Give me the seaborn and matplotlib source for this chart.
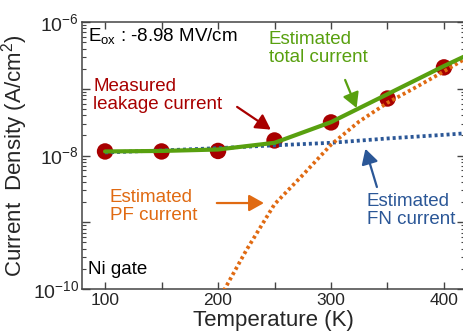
import numpy as np
import pandas as pd
import seaborn as sns
import matplotlib.pyplot as plt
from matplotlib.ticker import MultipleLocator, LogLocator, FuncFormatter, NullFormatter

# measured leakage current (dots)
TEMP_MEAS = [100, 150, 200, 250, 300, 350, 400]
J_MEAS = [1.15e-8, 1.15e-8, 1.17e-8, 1.68e-8, 3.13e-8, 7.14e-8, 2.09e-7]

# estimated total current
TEMP_TOT = [100, 150, 200, 250, 300, 350, 400, 420]
J_TOT = [1.15e-8, 1.17e-8, 1.23e-8, 1.55e-8, 3.16e-8, 8.3e-8, 2.19e-7, 3.16e-7]

# estimated FN current
TEMP_FN = [100, 150, 200, 250, 300, 350, 400, 420]
J_FN = [1.11e-8, 1.19e-8, 1.29e-8, 1.42e-8, 1.55e-8, 1.8e-8, 2.04e-8, 2.16e-8]

# estimated PF current
TEMP_PF = [200, 225, 250, 275, 300, 325, 350, 375, 400, 420]
J_PF = [6.6e-11, 3.8e-10, 1.86e-9, 5.1e-9, 1.45e-8, 3.24e-8, 6.17e-8, 1.05e-7, 1.82e-7, 2.9e-7]

RED = "#a80000"
GREEN = "#58a00f"
ORANGE = "#e06a12"
BLUE = "#2b5797"
AXC = "#444444"


def main():
    sns.set_style("ticks")
    plt.rcParams["font.family"] = ["Liberation Sans", "DejaVu Sans"]
    plt.rcParams["mathtext.fontset"] = "custom"
    plt.rcParams["mathtext.rm"] = "Liberation Sans"
    plt.rcParams["mathtext.it"] = "Liberation Sans:italic"
    plt.rcParams["mathtext.default"] = "regular"

    meas = pd.DataFrame({"T": TEMP_MEAS, "J": J_MEAS})
    tot = pd.DataFrame({"T": TEMP_TOT, "J": J_TOT})
    fn = pd.DataFrame({"T": TEMP_FN, "J": J_FN})
    pf = pd.DataFrame({"T": TEMP_PF, "J": J_PF})

    fig = plt.figure(figsize=(4.63, 3.36), dpi=100)
    ax = fig.add_axes([82 / 463, 47 / 336, 383 / 463, 267 / 336])
    ax.set_yscale("log")

    sns.scatterplot(data=meas, x="T", y="J", ax=ax, s=140, color=RED,
                    edgecolor="none", zorder=2)
    dots = (0, (0.8, 0.8))
    sns.lineplot(data=fn, x="T", y="J", ax=ax, color=BLUE, lw=2.7,
                 linestyle=dots, zorder=3)
    sns.lineplot(data=pf, x="T", y="J", ax=ax, color=ORANGE, lw=2.7,
                 linestyle=dots, zorder=3)
    sns.lineplot(data=tot, x="T", y="J", ax=ax, color=GREEN, lw=3, zorder=4)

    ax.set_xlim(79.6, 418.6)
    ax.set_ylim(1e-10, 1e-6)

    ax.xaxis.set_major_locator(MultipleLocator(100))
    ax.xaxis.set_minor_locator(MultipleLocator(50))
    ax.yaxis.set_major_locator(LogLocator(base=10, numticks=10))
    ax.yaxis.set_minor_locator(LogLocator(base=10, subs=np.arange(2, 10), numticks=20))

    def yfmt(v, pos):
        e = int(round(np.log10(v)))
        return f"$10^{{{e}}}$" if e % 2 == 0 else ""

    ax.yaxis.set_major_formatter(FuncFormatter(yfmt))
    ax.yaxis.set_minor_formatter(NullFormatter())

    ax.tick_params(which="both", direction="in", top=True, right=True, color=AXC)
    ax.tick_params(axis="x", which="both", length=5, width=1, labelsize=12.5, pad=3)
    ax.tick_params(axis="y", which="major", length=6, width=1, labelsize=14, pad=2)
    ax.tick_params(axis="y", which="minor", length=3, width=0.8)
    for side in ("top", "right", "bottom", "left"):
        ax.spines[side].set_color(AXC)
        ax.spines[side].set_linewidth(1.1)

    ax.set_xlabel("Temperature (K)", fontsize=16, labelpad=1)
    ax.set_ylabel("Current  Density (A/cm$^2$)", fontsize=16, labelpad=2)

    tf = ax.transAxes
    ax.text(0.016, 0.985, "E$_{ox}$ : -8.98 MV/cm", transform=tf, fontsize=13.5,
            ha="left", va="top", color="black")
    ax.text(0.029, 0.79, "Measured\nleakage current", transform=tf, fontsize=13.5,
            ha="left", va="top", color=RED, linespacing=1.05)
    ax.text(0.488, 0.965, "Estimated\ntotal current", transform=tf, fontsize=13.5,
            ha="left", va="top", color=GREEN, linespacing=1.05)
    ax.text(0.073, 0.375, "Estimated\nPF current", transform=tf, fontsize=13.5,
            ha="left", va="top", color=ORANGE, linespacing=1.05)
    ax.text(0.744, 0.358, "Estimated\nFN current", transform=tf, fontsize=13.5,
            ha="left", va="top", color=BLUE, linespacing=1.05)
    ax.text(0.016, 0.105, "Ni gate", transform=tf, fontsize=13.5,
            ha="left", va="top", color="black")

    arrows = [
        ((0.405, 0.682), (0.493, 0.597), RED),
        ((0.687, 0.783), (0.717, 0.678), GREEN),
        ((0.352, 0.322), (0.475, 0.322), ORANGE),
        ((0.770, 0.382), (0.740, 0.525), BLUE),
    ]
    for start, end, col in arrows:
        ax.annotate("", xy=end, xytext=start, xycoords=tf, textcoords=tf,
                    arrowprops=dict(arrowstyle="-|>,head_length=0.5,head_width=0.28",
                                    color=col, lw=1.6, mutation_scale=18,
                                    shrinkA=0, shrinkB=0))

    fig.savefig("out.png", dpi=100)


if __name__ == "__main__":
    main()
